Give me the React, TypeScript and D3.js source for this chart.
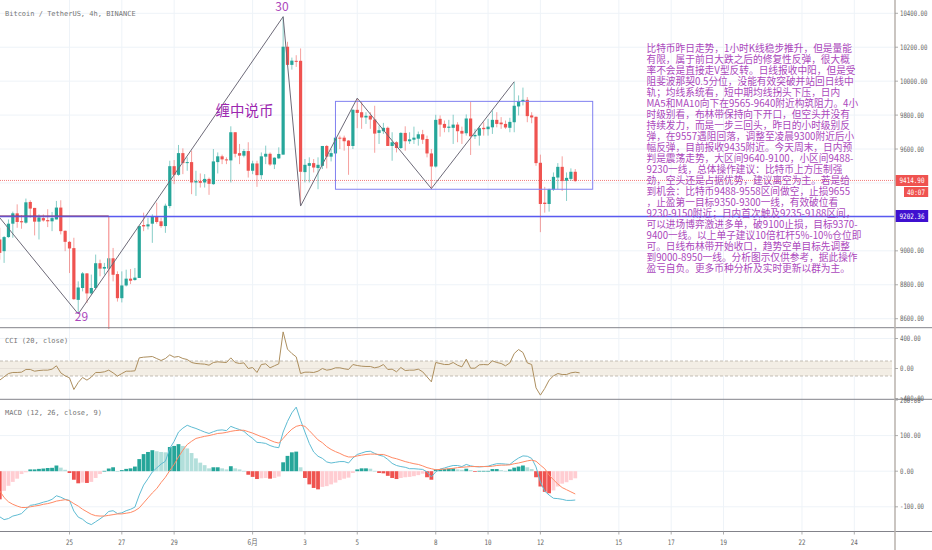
import React from "react";
import * as d3 from "d3";

const opens = [9067,8998,9081,9160,9221,9175,9166,9288,9253,9172,9193,9181,9174,9185,9255,9118,9053,9016,8711,8781,8867,8749,8781,8927,8895,8895,8956,8863,8721,8796,8836,8828,8840,9152,9144,9160,9203,9174,9146,9264,9499,9448,9576,9517,9523,9403,9411,9403,9424,9393,9523,9557,9539,9533,9699,9576,9561,9588,9472,9515,9446,9555,9572,9509,9545,9567,10203,10096,10120,10120,9464,9501,9517,9488,9501,9618,9555,9574,9667,9667,9650,9618,9831,9817,9786,9796,9774,9695,9705,9725,9618,9640,9606,9695,9646,9655,9661,9687,9659,9574,9497,9778,9748,9725,9725,9744,9707,9693,9780,9675,9679,9725,9717,9728,9772,9756,9748,9725,9758,9851,9881,9890,9798,9790,9519,9284,9276,9361,9432,9495,9413,9424,9466];
const highs = [9136,9087,9185,9231,9274,9211,9308,9298,9253,9215,9215,9245,9229,9294,9298,9120,9057,9077,8820,8875,8869,8860,8978,8948,8929,8958,9017,8879,8879,8889,8893,8899,9146,9225,9195,9215,9284,9195,9278,9531,9535,9624,9604,9551,9590,9472,9456,9452,9432,9600,9580,9567,9551,9734,9699,9630,9600,9640,9531,9531,9580,9620,9580,9551,9610,10380,10232,10139,10153,10193,9541,9551,9541,9551,9618,9624,9600,9689,9679,9679,9653,9835,9896,9877,9817,9817,9855,9738,9754,9732,9699,9646,9699,9734,9699,9732,9703,9713,9679,9600,9802,9798,9768,9772,9802,9758,9732,9804,9877,9719,9738,9758,9778,9827,9817,9788,9768,9784,9995,9916,9962,9906,9817,9792,9567,9377,9367,9462,9517,9557,9462,9486,9482];
const lows = [8948,8929,9077,9077,9136,9130,9160,9195,9091,9067,9172,9140,9116,9185,9097,8998,8869,8711,8632,8761,8692,8741,8771,8850,8860,8850,8820,8701,8696,8790,8804,8824,8840,9116,9126,9047,9160,9136,9106,9251,9393,9442,9452,9472,9334,9324,9373,9373,9330,9389,9456,9511,9511,9403,9551,9511,9551,9432,9452,9377,9422,9511,9501,9482,9541,9567,10094,10068,10084,9274,9403,9403,9462,9363,9482,9486,9527,9571,9600,9590,9448,9600,9723,9719,9748,9719,9578,9630,9689,9618,9531,9580,9600,9590,9630,9630,9620,9630,9551,9363,9491,9673,9699,9699,9630,9640,9630,9679,9565,9659,9620,9679,9679,9689,9728,9719,9719,9699,9699,9798,9857,9758,9752,9501,9110,9225,9231,9353,9363,9353,9294,9413,9407];
const closes = [8988,9081,9160,9221,9170,9168,9286,9249,9172,9197,9179,9174,9193,9255,9116,9053,9014,8715,8784,8867,8749,8781,8927,8895,8905,8956,8859,8721,8796,8836,8824,8842,9146,9144,9156,9203,9170,9146,9266,9499,9448,9576,9517,9523,9403,9411,9401,9424,9395,9527,9557,9539,9533,9699,9572,9561,9588,9472,9515,9446,9557,9572,9509,9549,9571,10203,10096,10121,10114,9466,9507,9517,9491,9507,9618,9555,9576,9667,9663,9646,9618,9831,9813,9786,9796,9774,9691,9711,9725,9618,9640,9606,9695,9646,9657,9667,9687,9655,9574,9497,9772,9744,9725,9732,9744,9705,9691,9780,9675,9683,9723,9717,9732,9772,9748,9746,9727,9760,9855,9883,9890,9794,9786,9517,9276,9276,9363,9436,9495,9411,9430,9466,9411];

const cci = [-155,-111,-67,-53,-53,-49,-13,-13,-36,-27,-22,-22,-9,36,-58,-98,-124,-280,-186,-120,-155,-115,-53,-53,-44,-22,-58,-102,-67,-36,-36,-31,142,151,155,160,133,107,133,182,151,160,133,120,80,67,62,58,44,80,89,84,80,142,80,67,75,0,13,-53,53,62,9,36,62,488,258,200,155,-67,-49,-49,-53,-36,0,-22,-13,9,9,-4,-13,53,40,31,27,27,9,22,53,-13,-9,-44,13,-27,-22,-22,-9,-44,-111,-178,80,67,53,53,80,44,22,124,4,4,49,53,49,102,80,67,36,75,200,253,213,75,53,-258,-355,-266,-155,-98,-67,-80,-80,-58,-49,-58];

const macdHist = [-79,-55,-41,-30,-21,-8,-3,5,5,6.5,7.5,9,9.5,16,10,4,-5,-24,-34,-32,-33,-30,-19,-8,1,7.5,11,0.5,3,6.5,8,13,34,48,54,59,56,54,53,68,71,76,71,64,51,36,24,17,8,11,11,8,5,14,8,5,1,-10,-16,-22,-20,-19,-21,-19,-15,25,43,53,55,11,-19,-37,-47,-51,-44,-42,-37,-32,-25,-21,-18,-5,5,8,8,7,1,-5,-6,-13,-19,-22,-19,-17,-16,-14,-11,-7,-17,-24,5,5,6,7,8,5,4,7,3,-2,1,1,1,6,6,3,1,5,10,13,16,11,6,-17,-43,-58,-62,-54,-43,-35,-31,-25,-20];
const macdLine = [-128,-136,-133,-126,-123,-119,-107,-96,-94,-91,-87,-84,-79,-69,-73,-79,-82,-112,-129,-135,-145,-150,-142,-134,-125,-113,-111,-119,-117,-111,-107,-101,-67,-39,-21,-2,9,20,28,64,84,110,121,129,124,120,115,110,106,111,115,116,114,126,121,117,112,101,92,81,80,78,72,68,66,110,140,164,180,143,110,78,54,42,36,26,23,25,27,27,23,37,47,51,55,56,50,45,42,33,22,16,13,11,7,7,6,5,-2,-16,-2,6,9,13,16,16,13,19,15,13,12,13,14,18,21,21,20,19,29,37,43,42,36,12,-30,-56,-67,-76,-77,-79,-82,-82,-81];
const signalLine = [-55,-74,-86,-93,-98,-102,-102,-100,-98,-96,-93,-91,-88,-84,-82,-80,-83,-91,-98,-107,-114,-121,-125,-126,-126,-124,-122,-120,-120,-118,-116,-111,-103,-89,-75,-61,-49,-32,-17,2,19,40,59,75,84,92,95,98,100,103,106,107,109,112,114,115,115,111,107,102,97,93,87,82,79,92,106,118,126,129,126,114,101,88,80,69,61,55,50,44,40,40,43,45,47,48,48,47,47,43,38,35,31,27,24,21,19,15,10,7,4,5,6,7,8,10,11,12,13,13,13,13,13,14,16,17,17,18,21,23,26,29,31,28,17,7,-11,-24,-36,-46,-52,-58,-64];

const dayTicks = ["25","27","29","6月","3","5","8","10","12","15","17","19","22","24"];
const dayTickIndex = [16,28,40,58,70,82,100,112,124,142,154,166,184,196];

const priceTicks = [10400,10200,10000,9800,9600,9400,9200,9000,8800,8600];
const priceTickLabels = ["10400.00","10200.00","10000.00","9800.00","9600.00","","","9000.00","8800.00","8600.00"];
const cciTicks = [400,0,-400];
const cciTickLabels = ["400.00","0.00","-400.00"];
const macdTicks = [200,100,0,-100];
const macdTickLabels = ["200.00","100.00","0.00","-100.00"];

const zigzagIndex = [0,18,65,69,82,99,118];
const zigzagPrice = [9195,8628,10380,9264,9900,9367,9997];
const boxIndex = [77,136];
const boxPrice = [9881,9363];
const redBoxIndex = 25;
const lastPrice = 9414.9;
const bluePrice = 9202.36;
const redBoxEndPrice = 8540;

const note = [
  "比特币昨日走势，1小时K线稳步推升，但是量能",
  "有限，属于前日大跌之后的修复性反弹，很大概",
  "率不会是直接走V型反转。日线报收中阳，但是受",
  "阻斐波那契0.5分位，没能有效突破并站回日线中",
  "轨；均线系统看，短中期均线拐头下压，日内",
  "MA5和MA10向下在9565-9640附近构筑阻力。4小",
  "时级别看，布林带保持向下开口，但空头并没有",
  "持续发力，而是一步三回头，昨日的小时级别反",
  "弹，在9557遇阻回落，调整至凌晨9300附近后小",
  "幅反弹，目前报收9435附近。今天周末，日内预",
  "判是震荡走势，大区间9640-9100，小区间9488-",
  "9230一线，总体操作建议：比特币上方压制强",
  "劲，空头还是占据优势，建议离空为主。若是给",
  "到机会：比特币9488-9558区间做空，止损9655",
  "，止盈第一目标9350-9300一线，有效破位看",
  "9230-9150附近；日内首次触及9235-9188区间，",
  "可以进场博弈激进多单，破9100止损，目标9370-",
  "9400一线。以上单子建议10倍杠杆5%-10%仓位即",
  "可。日线布林带开始收口，趋势空单目标先调整",
  "到9000-8950一线。分析图示仅供参考，据此操作",
  "盈亏自负。更多币种分析及实时更新以群为主。",
];

const W = 932, H = 550, AX = 895;
const UP = "#26a69a", DOWN = "#ef5350", PURPLE = "#ab47bc", GRID = "#eef3f8", BORDER = "#83838a";
const MONO = "'DejaVu Sans Mono', monospace";
const CJK = "'Noto Sans CJK SC', sans-serif";

const x = d3.scaleLinear().domain([16, 196]).range([69.5, 854.3]);
const yP = d3.scaleLinear().domain([10400, 8600]).range([13.3, 318.7]);
const yC = d3.scaleLinear().domain([400, -400]).range([338.5, 398.5]);
const yM = d3.scaleLinear().domain([100, -100]).range([435.6, 506.8]);

function AxisLabel({ y, t }: { y: number; t: string }) {
  if (!t) return null;
  return (
    <g>
      <line x1={AX} x2={AX + 3} y1={y} y2={y} stroke="#9a9a9a" strokeWidth={0.8} />
      <text transform={`translate(900,${y + 2.6}) scale(0.76,1)`} fontFamily={MONO} fontSize={7.5} fill="#666">{t}</text>
    </g>
  );
}

export default function App() {
  const cciPath = d3.line<number>().x((_, i) => x(i)).y(d => yC(d))(cci) || "";
  const macdPath = d3.line<number>().x((_, i) => x(i)).y(d => yM(d))(macdLine) || "";
  const sigPath = d3.line<number>().x((_, i) => x(i)).y(d => yM(d))(signalLine) || "";
  const zigzag = d3.line<number>().x(d => x(d)).y((_, i) => yP(zigzagPrice[i]))(zigzagIndex) || "";
  const bw = 3.2;
  return (
    <svg width={W} height={H} viewBox={`0 0 ${W} ${H}`}
      style={{ position: "absolute", left: 0, top: 0, background: "#fff", display: "block" }}>
      {/* grid */}
      {dayTickIndex.map(d => (
        <line key={d} x1={x(d)} x2={x(d)} y1={0} y2={531} stroke={GRID} strokeWidth={1} />
      ))}
      {priceTicks.map(p => (
        <line key={p} x1={0} x2={AX} y1={yP(p)} y2={yP(p)} stroke={GRID} strokeWidth={1} />
      ))}
      {cciTicks.slice(0, 1).map(p => (
        <line key={p} x1={0} x2={AX} y1={yC(p)} y2={yC(p)} stroke={GRID} strokeWidth={1} />
      ))}
      {macdTicks.slice(1).map(p => (
        <line key={p} x1={0} x2={AX} y1={yM(p)} y2={yM(p)} stroke={GRID} strokeWidth={1} />
      ))}

      {/* current price */}
      <line x1={0} x2={AX} y1={yP(lastPrice)} y2={yP(lastPrice)} stroke="#ef5350" strokeWidth={1} strokeDasharray="1 1" opacity={0.75} />

      {/* candles */}
      {opens.map((o, i) => {
        const c = closes[i];
        const up = c >= o;
        const col = up ? UP : DOWN;
        const top = yP(Math.max(o, c));
        const bot = yP(Math.min(o, c));
        return (
          <g key={i}>
            <line x1={x(i)} x2={x(i)} y1={yP(highs[i])} y2={yP(lows[i])} stroke={col} strokeOpacity={0.55} strokeWidth={1} />
            <rect x={x(i) - bw / 2} y={top} width={bw} height={Math.max(1, bot - top)} fill={col} />
          </g>
        );
      })}

      {/* drawings */}
      <line x1={x(redBoxIndex)} x2={x(redBoxIndex)} y1={yP(bluePrice)} y2={yP(redBoxEndPrice)} stroke="#f7a3a3" strokeWidth={1.4} />
      <line x1={0} x2={AX} y1={yP(bluePrice)} y2={yP(bluePrice)} stroke="#5a5af0" strokeWidth={1.6} />
      <line x1={0} x2={x(redBoxIndex)} y1={yP(bluePrice) - 0.6} y2={yP(bluePrice) - 0.6} stroke="#8a3f78" strokeWidth={0.9} />
      <rect x={x(boxIndex[0])} y={yP(boxPrice[0])} width={x(boxIndex[1]) - x(boxIndex[0])} height={yP(boxPrice[1]) - yP(boxPrice[0])}
        fill="none" stroke="#8080f0" strokeWidth={1} />
      <path d={zigzag} fill="none" stroke="#6d6a78" strokeWidth={1} />

      {/* labels on chart */}
      <text x={81.5} y={321} textAnchor="middle" fontFamily={CJK} fontSize={12} fill={PURPLE}>29</text>
      <text x={282} y={11} textAnchor="middle" fontFamily={CJK} fontSize={12} fill={PURPLE}>30</text>
      <text x={215.5} y={116} fontFamily={CJK} fontSize={14.5} fill="#9c27b0">缠中说币</text>
      <text x={5} y={15.5} fontFamily={MONO} fontSize={7} fill="#777">Bitcoin / TetherUS, 4h, BINANCE</text>

      {note.map((t, i) => (
        <text key={i} x={646.5} y={52 + i * 11} fontFamily={CJK} fontSize={9.7} fill={PURPLE}>{t}</text>
      ))}

      {/* CCI pane */}
      <rect x={0} y={yC(100)} width={AX - 3} height={yC(-100) - yC(100)} fill="#f3eee5" />
      <line x1={0} x2={AX - 3} y1={yC(100)} y2={yC(100)} stroke="#b5aea5" strokeWidth={0.8} strokeDasharray="3 2" />
      <line x1={0} x2={AX - 3} y1={yC(-100)} y2={yC(-100)} stroke="#b5aea5" strokeWidth={0.8} strokeDasharray="3 2" />
      <line x1={0} x2={AX - 3} y1={yC(0)} y2={yC(0)} stroke="#e2dcd4" strokeWidth={0.8} />
      <path d={cciPath} fill="none" stroke="#ad8f5f" strokeWidth={1} />
      <text x={5} y={343} fontFamily={MONO} fontSize={7} fill="#777">CCI (20, close)</text>

      {/* MACD pane */}
      {macdHist.map((h, i) => {
        const prev = i > 0 ? macdHist[i - 1] : 0;
        const col = h >= 0 ? (h >= prev ? UP : "#b2dfdb") : (h <= prev ? DOWN : "#ffcdd2");
        const y0 = yM(0);
        const y1 = yM(h);
        return <rect key={i} x={x(i) - 1.9} width={3.8} y={Math.min(y0, y1)} height={Math.max(0.7, Math.abs(y1 - y0))} fill={col} />;
      })}
      <path d={macdPath} fill="none" stroke="#5fbcd3" strokeWidth={1} />
      <path d={sigPath} fill="none" stroke="#ff8a65" strokeWidth={1} />
      <text x={5} y={415} fontFamily={MONO} fontSize={7} fill="#777">MACD (12, 26, close, 9)</text>

      {/* separators and axes */}
      <rect x={AX} y={0} width={W - AX} height={H} fill="#fff" />
      {[327.7, 399.3, 531.5].map(y => (
        <line key={y} x1={0} x2={W} y1={y} y2={y} stroke={BORDER} strokeWidth={1} />
      ))}
      <line x1={AX} x2={AX} y1={0} y2={H} stroke="#b8b2ac" strokeWidth={1.5} />

      {priceTicks.map((p, i) => <AxisLabel key={p} y={yP(p)} t={priceTickLabels[i]} />)}
      {cciTicks.map((p, i) => <AxisLabel key={p} y={yC(p)} t={cciTickLabels[i]} />)}
      {macdTicks.map((p, i) => <AxisLabel key={p} y={yM(p)} t={macdTickLabels[i]} />)}

      {dayTicks.map((t, i) => (
        <g key={t}>
          <line x1={x(dayTickIndex[i])} x2={x(dayTickIndex[i])} y1={531.5} y2={534.5} stroke="#9a9a9a" strokeWidth={0.8} />
          <text x={x(dayTickIndex[i])} y={545} textAnchor="middle" fontFamily={t === "6月" ? CJK : MONO} fontSize={7.5} fill="#666"
            textLength={t === "6月" ? 10 : t.length * 3.5} lengthAdjust="spacingAndGlyphs">{t}</text>
        </g>
      ))}

      {/* price tags */}
      <rect x={895.7} y={175} width={32.5} height={11} fill="#ef5350" />
      <text x={912} y={183} textAnchor="middle" fontFamily={MONO} fontSize={7.5} fill="#fff"
        textLength={25} lengthAdjust="spacingAndGlyphs">9414.90</text>
      <rect x={904} y={187} width={24.2} height={10} fill="#ef5350" />
      <text x={916} y={194.6} textAnchor="middle" fontFamily={MONO} fontSize={7.5} fill="#fff"
        textLength={18} lengthAdjust="spacingAndGlyphs">40:07</text>
      <rect x={895.7} y={210} width={32.5} height={12} fill="#3f10d0" />
      <text x={912} y={218.6} textAnchor="middle" fontFamily={MONO} fontSize={7.5} fill="#fff"
        textLength={25} lengthAdjust="spacingAndGlyphs">9202.36</text>
    </svg>
  );
}
